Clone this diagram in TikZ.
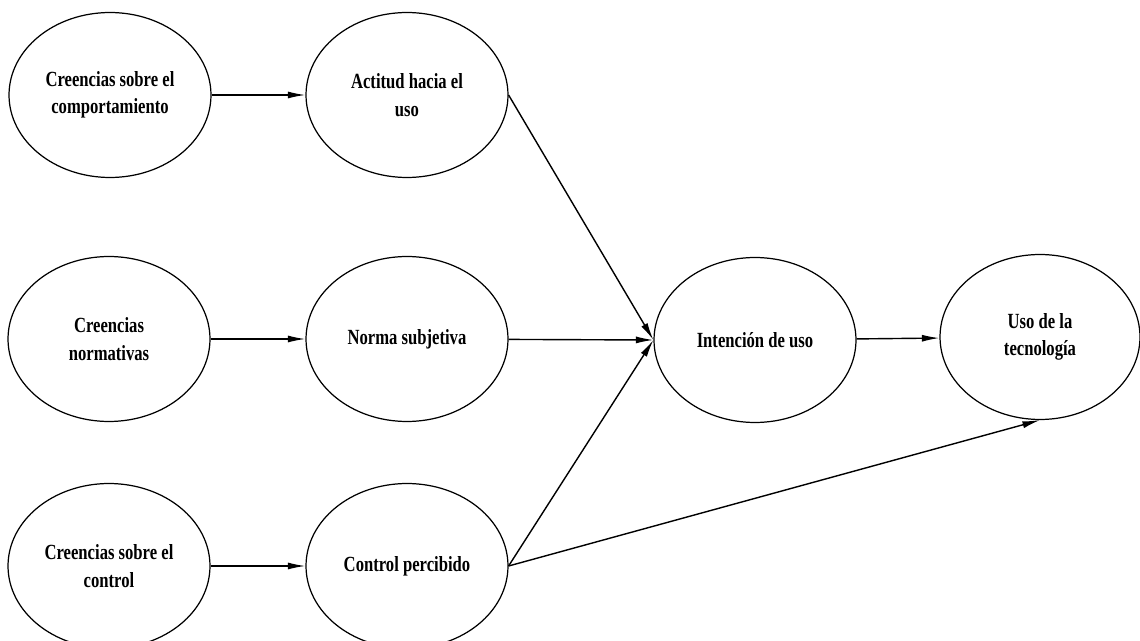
\documentclass[tikz,border=0pt]{standalone}
\usepackage{fontspec}
\newfontfamily\lblfont[FakeStretch=0.77]{Liberation Serif}
\usetikzlibrary{shapes.geometric, arrows.meta}
\tikzset{every picture/.style={x=0.02cm,y=-0.02cm,
    every node/.style={ellipse, draw=black, line width=0.7pt, minimum width=4.04cm, minimum height=3.3cm,
      inner sep=0pt, align=center, font=\lblfont\bfseries\fontsize{12.3}{15.6}\selectfont}},
  link/.style={-{Latex[length=10pt,width=4pt]}, line width=0.8pt}}

\begin{document}
\begin{tikzpicture}
    \useasboundingbox (0,0) rectangle (1140,641);

    \node (cc) at (110, 95){Creencias sobre el\\comportamiento};
    \node (au) at (407, 95){Actitud hacia el\\uso};
    \node (cn) at (109, 339){Creencias\\normativas};
    \node (ns) at (407, 339){Norma subjetiva};
    \node (ct) at (109, 566){Creencias sobre el\\control};
    \node (cp) at (407, 566){Control percibido};
    \node (iu) at (755, 340){Intenci\'on de uso};
    \node[minimum width=4cm] (ut) at (1040, 337){Uso de la\\tecnolog\'ia};

    \draw[link](cc)--(au);
    \draw[link](cn)--(ns);
    \draw[link](ct)--(cp);
    \draw[link](au.east)--(iu.west);
    \draw[link](ns)--(iu.west);
    \draw[link](cp.east)--(iu.west);
    \draw[link](iu)--(ut);
    \draw[link](cp.east)--(ut.south);
  \end{tikzpicture}
\end{document}
